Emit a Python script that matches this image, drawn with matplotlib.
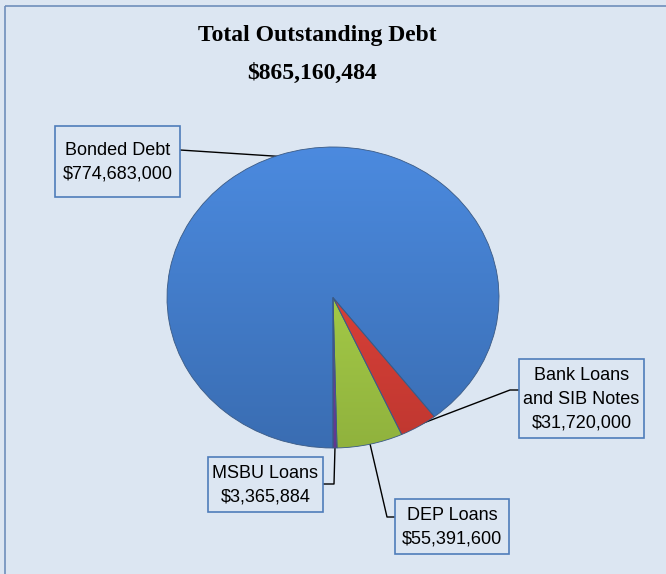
import numpy as np
import matplotlib.pyplot as plt
import matplotlib.colors as mcolors
from matplotlib.patches import Rectangle

# datos del grafico
categorias = ["MSBU Loans", "DEP Loans", "Bank Loans\nand SIB Notes", "Bonded Debt"]
valores = [3365884, 55391600, 31720000, 774683000]
etiquetas_valor = ["$3,365,884", "$55,391,600", "$31,720,000", "$774,683,000"]
total = "$865,160,484"
titulo = "Total Outstanding Debt"

colores = ["#6c3f9e", "#a0c644", "#d43d35", "#4079c6"]

W, H = 666, 574
fondo = "#dce6f2"

fig = plt.figure(figsize=(W / 100, H / 100), dpi=100)
fig.patch.set_facecolor(fondo)

# ejes de fondo en pixeles
ax = fig.add_axes([0, 0, 1, 1])
ax.set_xlim(0, W)
ax.set_ylim(H, 0)
ax.axis("off")
ax.set_facecolor(fondo)

# borde del grafico (solo se ve arriba y a la izquierda)
ax.add_patch(Rectangle((5, 6), 800, 800, fill=False, ec="#6f8fbb", lw=1.2))

ax.text(317, 41, titulo, ha="center", va="baseline", fontsize=17,
        fontweight="bold", family="Liberation Serif")
ax.text(312, 79, total, ha="center", va="baseline", fontsize=17,
        fontweight="bold", family="Liberation Serif")

# pie (elipse: 167..499 x 147..448)
x0, x1, y0, y1 = 167, 499, 147, 448
axp = fig.add_axes([x0 / W, 1 - y1 / H, (x1 - x0) / W, (y1 - y0) / H])
wedges, _ = axp.pie(valores, colors=colores, startangle=270, counterclock=True,
                    radius=1, frame=True,
                    wedgeprops=dict(edgecolor="#3a5a85", linewidth=0.6))
axp.set_aspect("auto")
axp.axis("off")

# degradado vertical dentro de cada porcion
t = np.linspace(0, 1, 256)[:, None]
for w, c in zip(wedges, colores):
    base = np.array(mcolors.to_rgb(c))
    claro = np.clip(base * 1.1 + 0.02, 0, 1)
    oscuro = base * 0.9
    img = claro[None, None, :] * (1 - t[:, :, None]) + oscuro[None, None, :] * t[:, :, None]
    axp.imshow(img, extent=(-1, 1, -1, 1), origin="upper", aspect="auto",
               clip_path=w, zorder=w.get_zorder() + 0.1)
    w.set_zorder(w.get_zorder() + 0.2)
    w.set_facecolor("none")
axp.set_xlim(-1, 1)
axp.set_ylim(-1, 1)

# cajas de etiquetas (x0, y0, x1, y1) y codos de las lineas guia
cajas = [(208, 457, 323, 512), (395, 499, 509, 554), (519, 359, 644, 438), (55, 126, 180, 197)]
codos = [[(334, 484), (323, 484)],
         [(387, 517), (395, 517)],
         [(510, 390), (519, 390)],
         [(180, 150)]]

cx, cy = (x0 + x1) / 2, (y0 + y1) / 2
rx, ry = (x1 - x0) / 2, (y1 - y0) / 2

for w, cat, val, caja, codo in zip(wedges, categorias, etiquetas_valor, cajas, codos):
    ang = np.deg2rad((w.theta1 + w.theta2) / 2)
    px = cx + rx * 0.99 * np.cos(ang)
    py = cy - ry * 0.99 * np.sin(ang)
    xs = [px] + [p[0] for p in codo]
    ys = [py] + [p[1] for p in codo]
    ax.plot(xs, ys, color="black", lw=1.0, zorder=5)
    bx0, by0, bx1, by1 = caja
    ax.add_patch(Rectangle((bx0, by0), bx1 - bx0, by1 - by0, fc=fondo,
                           ec="#4f7dba", lw=1.2, zorder=6))
    ax.text((bx0 + bx1) / 2, (by0 + by1) / 2 + 1, cat + "\n" + val, ha="center",
            va="center", fontsize=13, linespacing=1.5, zorder=7,
            family="Liberation Sans")

fig.savefig("out.png", dpi=100, facecolor=fondo)
